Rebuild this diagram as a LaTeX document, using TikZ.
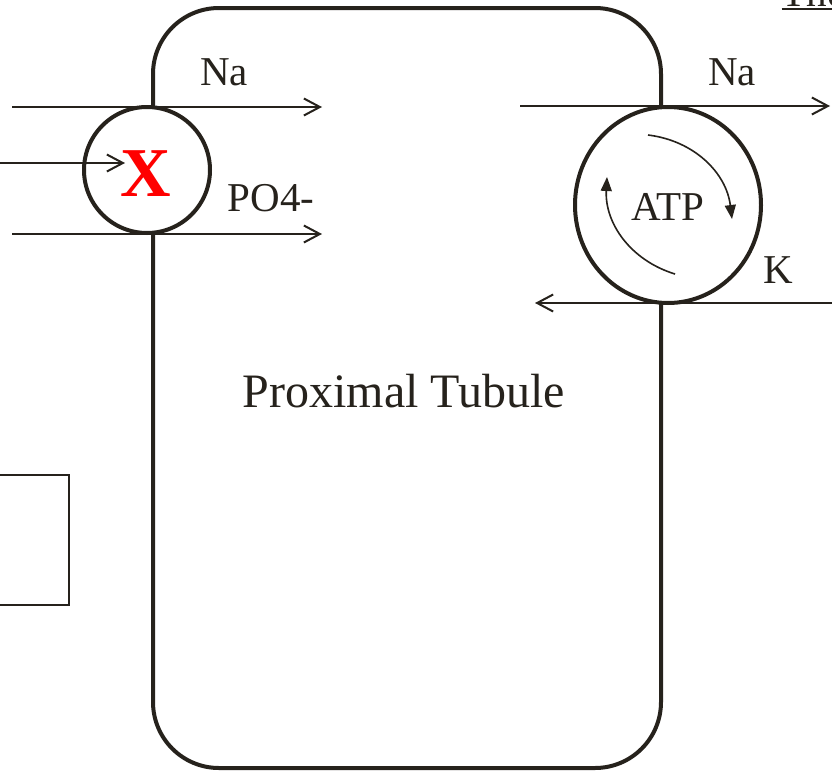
\documentclass[tikz,border=0pt]{standalone}
\usepackage{fontspec}
\setmainfont{Liberation Serif}
\usepackage{tikz}
\usetikzlibrary{positioning,arrows.meta,shapes.geometric}
\definecolor{ink}{RGB}{38,34,28}
\definecolor{xred}{RGB}{255,0,0}
\newcommand{\thickul}[1]{\setbox0\hbox{#1}\rlap{\rule[-4pt]{\wd0}{2pt}}\box0}

\begin{document}
\begin{tikzpicture}[x=1pt, y=-1pt,
  every node/.style={text=ink, font=\fontsize{41}{48}\selectfont},
  cell/.style={draw=ink, line width=4pt, rectangle, rounded corners=66pt, minimum width=508pt, minimum height=760pt, inner sep=0pt},
  pump/.style={draw=ink, line width=4pt, circle, fill=white, minimum size=126pt, inner sep=0pt},
  atpase/.style={draw=ink, line width=4pt, ellipse, fill=white, minimum width=186pt, minimum height=196pt, inner sep=0pt},
  flow/.style={draw=ink, line width=2pt, -{Straight Barb[length=16pt, width=17pt, line width=2pt]}},
  cycle/.style={draw=ink, line width=1.6pt, -{Triangle[length=14pt, width=11pt]}}
]
\useasboundingbox (0,0) rectangle (832,771);
\clip (0,0) rectangle (832,771);

\node[cell] (tubule) at (407,388) {};
\node[pump] (cotrans) at (147,170) {};
\node[atpase] (nakpump) at (668,205) {};
\node[draw=ink, line width=2pt, minimum width=75pt, minimum height=130pt, inner sep=0pt] (blank) at (31,540) {};

\node[anchor=base west] (title) at (778,6) {\thickul{The}};
\node[font=\bfseries\fontsize{70}{80}\selectfont, text=xred] (xmark) at (146,174) {X};
\node (atp) at (668,207) {ATP};
\node (naL) at (224,72) {Na};
\node (po4) at (271,198) {PO4-};
\node (naR) at (732,72) {Na};
\node (kion) at (778,270) {K};
\node[font=\fontsize{48}{56}\selectfont] (label) at (404,391) {Proximal Tubule};

% ions across the apical side
\coordinate (naLin) at (12,107);
\coordinate (naLout) at (322,107);
\coordinate (midin) at (0,163);
\coordinate (midout) at (125,163);
\coordinate (po4in) at (12,234);
\coordinate (po4out) at (322,234);
\draw[flow] (naLin) -- (naLout);
\draw[flow] (midin) -- (midout);
\draw[flow] (po4in) -- (po4out);

% Na/K pump
\coordinate (naRin) at (520,106);
\coordinate (naRout) at (830,106);
\coordinate (kin) at (832,303);
\coordinate (kout) at (535,303);
\draw[flow] (naRin) -- (naRout);
\draw[flow] (kin) -- (kout);

\coordinate (c1a) at (648,135);
\coordinate (c1b) at (732,219);
\coordinate (c2a) at (675,274);
\coordinate (c2b) at (607,177);
\draw[cycle] (c1a) to[bend left=38] (c1b);
\draw[cycle] (c2a) to[bend left=38] (c2b);
\end{tikzpicture}
\end{document}
